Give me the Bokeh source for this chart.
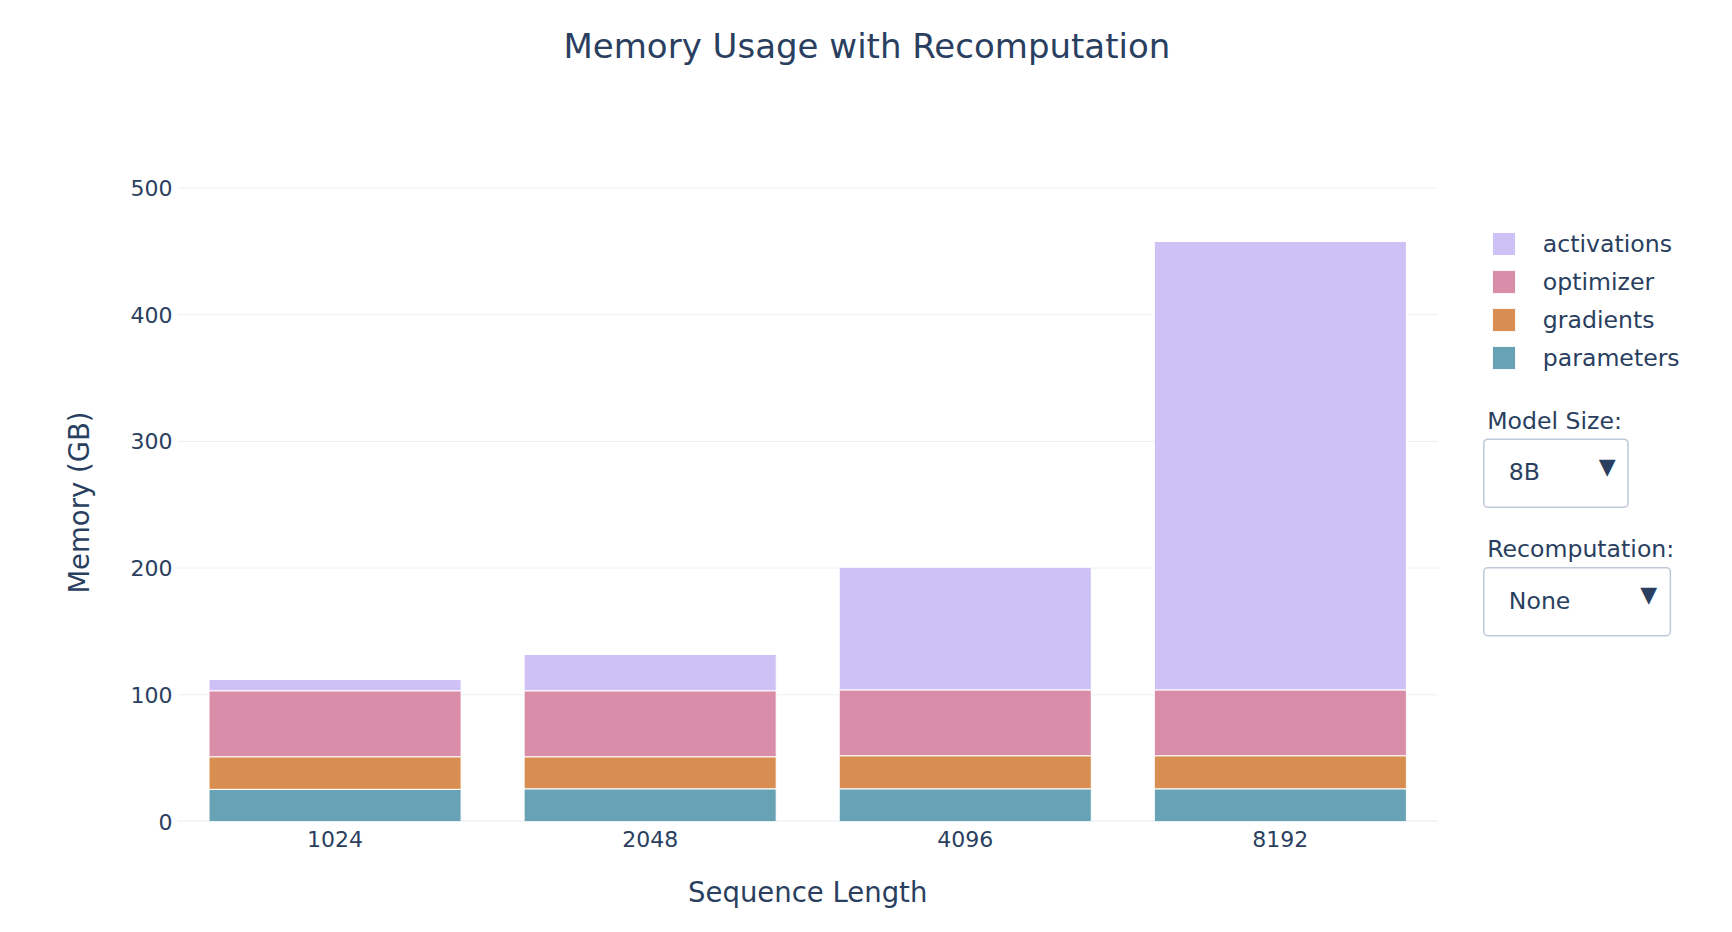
from bokeh.plotting import figure
from bokeh.models import (Range1d, FixedTicker, Legend, LegendItem, Label, Title)
from bokeh.embed import file_html
from bokeh.resources import INLINE

# ---- data ----
seq_lengths = ["1024", "2048", "4096", "8192"]
parameters = [25.4, 25.8, 25.8, 25.8]
gradients = [25.7, 25.3, 26.1, 26.1]
optimizer = [52.1, 52.1, 52.0, 52.0]
activations = [8.9, 28.6, 96.8, 353.9]
series_names = ["parameters", "gradients", "optimizer", "activations"]
series_colors = ["#67A3B5", "#D88E50", "#DA8DA9", "#CDC1F5"]
y_ticks = [0, 100, 200, 300, 400, 500]
model_size_label = "Model Size:"
model_size_value = "8B"
recompute_label = "Recomputation:"
recompute_value = "None"
title_text = "Memory Usage with Recomputation"
x_title = "Sequence Length"
y_title = "Memory (GB)"

FONT = "DejaVu Sans"
TXT = "#2A3F5F"
GRID = "#EBF0F8"

# layout constants (pixels)
W, H = 1716, 924
LEFT, TOP, BOTTOM = 177, 183, 103
CAT_PX = 315.1                      # width of one category slot
FRAME_W = W - LEFT                  # frame runs to the right edge (room for legend/controls)

n = len(seq_lengths)
xs = list(range(n))
totals = [a + b + c + d for a, b, c, d in zip(parameters, gradients, optimizer, activations)]
ymax = max(totals) * 1.1

p = figure(width=W, height=H,
           x_range=Range1d(-0.5, -0.5 + FRAME_W / CAT_PX), y_range=Range1d(0, ymax),
           output_backend="svg", toolbar_location=None,
           min_border_left=LEFT, min_border_right=0, min_border_top=TOP,
           min_border_bottom=BOTTOM, title=None)
p.outline_line_color = None
p.background_fill_color = "white"
p.border_fill_color = "white"
p.xgrid.visible = False
p.ygrid.visible = False

# horizontal grid lines over the category span only, plus the zero line
p.segment(x0=[-0.5] * len(y_ticks), x1=[n - 0.5] * len(y_ticks), y0=y_ticks, y1=y_ticks,
          line_color=GRID, line_width=1, level="underlay")
p.segment(x0=[-0.5], x1=[n - 0.5], y0=[0], y1=[0], line_color=GRID, line_width=2,
          level="underlay")

data = dict(x=xs, parameters=parameters, gradients=gradients,
            optimizer=optimizer, activations=activations)
renderers = p.vbar_stack(series_names, x="x", width=0.8, source=data,
                         color=series_colors, line_color="white", line_width=1)

# axes
p.yaxis.ticker = FixedTicker(ticks=y_ticks)
p.xaxis.ticker = FixedTicker(ticks=xs)
p.xaxis.major_label_overrides = {i: s for i, s in zip(xs, seq_lengths)}
p.xaxis.bounds = (-0.5, n - 0.5)
for ax in (p.xaxis[0], p.yaxis[0]):
    ax.axis_line_color = None
    ax.major_tick_line_color = None
    ax.minor_tick_line_color = None
    ax.major_tick_out = 0
    ax.major_tick_in = 0
    ax.minor_tick_out = 0
    ax.minor_tick_in = 0
    ax.major_label_text_font = FONT
    ax.major_label_text_font_size = "22px"
    ax.major_label_text_color = TXT
    ax.axis_label_text_font = FONT
    ax.axis_label_text_font_size = "27.5px"
    ax.axis_label_text_font_style = "normal"
    ax.axis_label_text_color = TXT
p.yaxis.axis_label = y_title
p.xaxis.major_label_standoff = 9
p.yaxis.major_label_standoff = 5
p.yaxis.axis_label_standoff = 33

# x-axis title, centred under the four categories (below-panel label)
p.add_layout(Label(x=(n / 2) * CAT_PX, y=-10.4, x_units="screen", y_units="screen",
                   text=x_title, text_font=FONT, text_font_size="27.5px",
                   text_color=TXT, text_align="center", text_baseline="alphabetic"),
             "below")

# title
p.add_layout(Title(text=title_text, align="left", offset=386, standoff=0,
                   vertical_align="bottom",
                   padding=dict(left=0, right=0, top=0, bottom=118),
                   text_font=FONT, text_font_size="34px", text_font_style="normal",
                   text_color=TXT), "above")

# legend (reverse order like the reference)
items = [LegendItem(label=s, renderers=[r]) for s, r in zip(series_names, renderers)][::-1]
legend = Legend(items=items, location=(1311.8, 448.9), orientation="vertical",
                glyph_width=29, glyph_height=29, label_standoff=25, spacing=9,
                padding=0, margin=0, border_line_color=None, background_fill_alpha=0,
                label_text_font=FONT, label_text_font_size="23.6px", label_text_color=TXT)
p.add_layout(legend, "center")

# dropdown-like controls (x from the frame's left edge, y up from its bottom edge)
def lab(x, y, text, size="23.6px", align="left", baseline="alphabetic", **kw):
    p.add_layout(Label(x=x, y=y, x_units="screen", y_units="screen", text=text,
                       text_font=FONT, text_font_size=size, text_color=TXT,
                       text_align=align, text_baseline=baseline, **kw))

box_style = dict(border_line_color="#BEC8D9", border_line_width=1.5,
                 background_fill_color="white", border_radius=4)

lab(1309.7, 400.9, model_size_label)
lab(1306.3, 348.35, model_size_value,
    padding=dict(left=25, right=88, top=19, bottom=21), **box_style)
lab(1429.7, 354.6, "\u25BC", size="22px", align="center", baseline="middle")

lab(1309.7, 272.5, recompute_label)
lab(1306.3, 219.85, recompute_value,
    padding=dict(left=25, right=100, top=19, bottom=21), **box_style)
lab(1471.3, 226.6, "\u25BC", size="22px", align="center", baseline="middle")

open("out.html", "w").write(file_html(p, INLINE))
